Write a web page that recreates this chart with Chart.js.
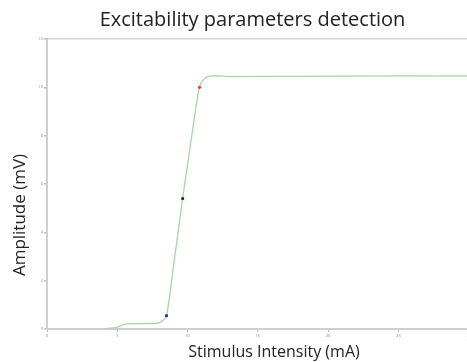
<!DOCTYPE html>
<html>
<head>
<meta charset="utf-8">
<script src="https://cdn.jsdelivr.net/npm/chart.js@4"></script>
<style>
    html, body { margin: 0; padding: 0; background: #fff; overflow: hidden; }
    #wrap { position: relative; width: 505px; height: 362px; }
</style>
</head>
<body>
<div id="wrap"><canvas id="excChart" width="505" height="362"></canvas></div>
<script>
// response curve (stimulus in mA, amplitude in mV)
const stimulus = [4, 5, 5.6, 6.5, 7.5, 8.0, 8.3, 8.5, 9.0, 9.65, 10.3, 10.85, 11.2, 11.6, 12.0, 13, 15, 20, 25, 32.5];
const amplitude = [0, 0.08, 0.2, 0.22, 0.22, 0.26, 0.38, 0.55, 2.6, 5.4, 8.0, 10.0, 10.35, 10.47, 10.48, 10.44, 10.45, 10.46, 10.47, 10.47];

// detected parameters
const markerX = [8.5, 9.65, 10.85];
const markerY = [0.55, 5.4, 10.0];
const markerColors = ['#2020e0', '#222222', '#e04040'];

const yTicks = [0, 2, 4, 6, 8, 10, 12];

const font = "'Open Sans', 'DejaVu Sans', sans-serif";

const curve = stimulus.map((x, i) => ({ x: x, y: amplitude[i] }));
const markers = markerX.map((x, i) => ({ x: x, y: markerY[i] }));

// y axis label sits a bit below the middle in the original, so draw it by hand
const yLabel = {
    id: 'yLabel',
    afterDraw(chart) {
        const c = chart.ctx;
        c.save();
        c.translate(20, 215);
        c.rotate(-Math.PI / 2);
        c.fillStyle = '#222';
        c.font = '17px ' + font;
        c.textAlign = 'center';
        c.textBaseline = 'middle';
        c.fillText('Amplitude (mV)', 0, 0);
        c.restore();
    }
};

new Chart(document.getElementById('excChart'), {
    type: 'line',
    data: {
        datasets: [
            {
                data: markers,
                showLine: false,
                pointRadius: 1.6,
                pointBackgroundColor: markerColors,
                pointBorderColor: markerColors,
                pointBorderWidth: 0
            },
            {
                data: curve,
                borderColor: '#a6d8a0',
                borderWidth: 1.3,
                pointRadius: 0,
                cubicInterpolationMode: 'monotone',
                fill: false
            }
        ]
    },
    options: {
        responsive: false,
        animation: false,
        layout: { padding: 0 },
        plugins: {
            legend: { display: false },
            tooltip: { enabled: false },
            title: {
                display: true,
                text: 'Excitability parameters detection',
                color: '#222',
                font: { family: font, size: 20, weight: 'normal' },
                padding: { top: 8, bottom: 7 }
            }
        },
        scales: {
            x: {
                type: 'linear',
                min: 0,
                max: 32.3,
                afterFit: (s) => { s.height = 33; },
                afterBuildTicks: (s) => { s.ticks = s.ticks.filter(t => t.value % 5 === 0); },
                ticks: { stepSize: 5, color: '#888', font: { family: font, size: 4 }, padding: 1, maxRotation: 0 },
                grid: { display: true, color: 'transparent', tickColor: '#bbb', tickLength: 3 },
                border: { color: '#cfcfcf', width: 2 },
                title: {
                    display: true,
                    text: 'Stimulus Intensity (mA)',
                    color: '#222',
                    font: { family: font, size: 16 },
                    padding: { top: 0, bottom: 0 }
                }
            },
            y: {
                min: 0,
                max: 12,
                afterFit: (s) => { s.width = 47; },
                afterBuildTicks: (s) => { s.ticks = yTicks.map(v => ({ value: v })); },
                ticks: { color: '#888', font: { family: font, size: 4 }, padding: 1 },
                grid: {
                    display: true,
                    color: (ctx) => ctx.tick && ctx.tick.value === 12 ? '#d4d4d4' : 'transparent',
                    tickColor: '#bbb',
                    tickLength: 3,
                    lineWidth: 1.5
                },
                border: { color: '#cfcfcf', width: 2 }
            }
        }
    },
    plugins: [yLabel]
});
</script>
</body>
</html>
